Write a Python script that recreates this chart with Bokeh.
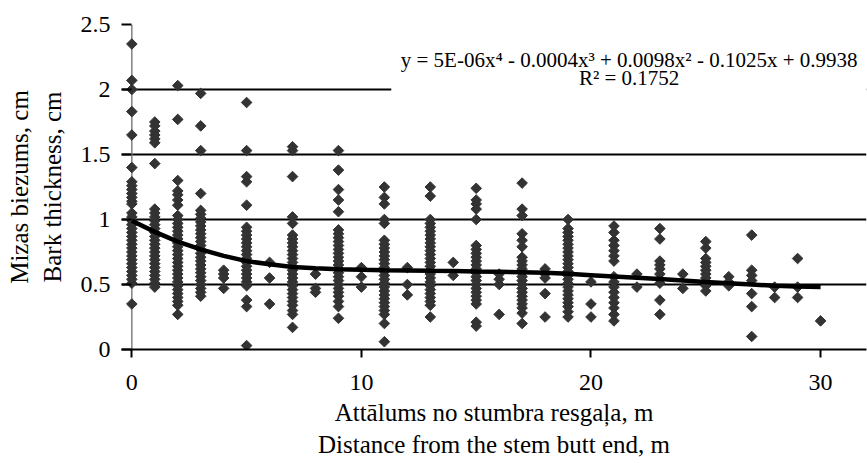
from bokeh.plotting import figure
from bokeh.models import Range1d, FixedTicker, Span, BoxAnnotation, Label
from bokeh.embed import file_html
from bokeh.resources import INLINE

# ---- data ----
distances = list(range(31))
d00 = [2.35, 2.07, 2.0, 1.83, 1.65, 1.40, 1.29, 1.26, 1.23, 1.20, 1.17, 1.14, 1.12, 1.05, 1.02,
       0.99, 0.96, 0.93, 0.90, 0.87, 0.84, 0.81, 0.78, 0.75, 0.72, 0.69, 0.66, 0.63, 0.60, 0.57,
       0.54, 0.51, 0.35]
d01 = [1.75, 1.72, 1.68, 1.65, 1.62, 1.59, 1.43, 1.08, 1.05, 1.02, 0.99, 0.96, 0.93, 0.90, 0.87,
       0.84, 0.81, 0.78, 0.75, 0.72, 0.69, 0.66, 0.63, 0.60, 0.57, 0.54, 0.51, 0.48]
d02 = [2.03, 1.77, 1.30, 1.22, 1.19, 1.15, 1.11, 1.03, 1.00, 0.97, 0.94, 0.91, 0.88, 0.85, 0.82,
       0.79, 0.76, 0.73, 0.70, 0.67, 0.64, 0.61, 0.58, 0.55, 0.52, 0.49, 0.46, 0.43, 0.40, 0.37,
       0.34, 0.27]
d03 = [1.97, 1.72, 1.53, 1.20, 1.07, 1.04, 1.01, 0.98, 0.95, 0.92, 0.89, 0.86, 0.83, 0.80, 0.77,
       0.74, 0.71, 0.68, 0.65, 0.62, 0.59, 0.56, 0.53, 0.50, 0.47, 0.44, 0.41]
d04 = [0.61, 0.58, 0.55, 0.47]
d05 = [1.90, 1.53, 1.33, 1.29, 1.11, 0.94, 0.91, 0.88, 0.85, 0.82, 0.79, 0.76, 0.73, 0.70, 0.67,
       0.64, 0.61, 0.58, 0.55, 0.52, 0.49, 0.38, 0.33, 0.03]
d06 = [0.67, 0.55, 0.35]
d07 = [1.56, 1.53, 1.33, 1.02, 0.97, 0.88, 0.85, 0.82, 0.79, 0.76, 0.73, 0.70, 0.67, 0.64, 0.61,
       0.58, 0.55, 0.52, 0.49, 0.46, 0.43, 0.40, 0.37, 0.34, 0.30, 0.27, 0.17]
d08 = [0.58, 0.47, 0.44]
d09 = [1.53, 1.38, 1.23, 1.15, 1.06, 0.92, 0.89, 0.86, 0.83, 0.80, 0.77, 0.74, 0.71, 0.68, 0.65,
       0.62, 0.59, 0.56, 0.53, 0.50, 0.47, 0.44, 0.41, 0.37, 0.33, 0.24]
d10 = [0.63, 0.56, 0.48]
d11 = [1.25, 1.17, 1.12, 1.00, 0.97, 0.84, 0.81, 0.78, 0.75, 0.72, 0.69, 0.66, 0.63, 0.60, 0.57,
       0.54, 0.51, 0.48, 0.45, 0.42, 0.39, 0.36, 0.33, 0.30, 0.27, 0.20, 0.06]
d12 = [0.63, 0.50, 0.42]
d13 = [1.25, 1.18, 1.00, 0.97, 0.94, 0.91, 0.88, 0.85, 0.82, 0.79, 0.76, 0.73, 0.70, 0.67, 0.64,
       0.61, 0.58, 0.55, 0.52, 0.49, 0.46, 0.43, 0.40, 0.37, 0.34, 0.25]
d14 = [0.67, 0.57]
d15 = [1.24, 1.15, 1.12, 1.08, 1.00, 0.80, 0.77, 0.74, 0.71, 0.68, 0.65, 0.62, 0.59, 0.56, 0.53,
       0.50, 0.47, 0.44, 0.41, 0.38, 0.35, 0.21, 0.18]
d16 = [0.58, 0.54, 0.50, 0.27]
d17 = [1.28, 1.08, 1.03, 0.89, 0.84, 0.79, 0.71, 0.68, 0.65, 0.62, 0.59, 0.56, 0.53, 0.50, 0.47,
       0.44, 0.41, 0.38, 0.35, 0.32, 0.28, 0.20]
d18 = [0.62, 0.58, 0.55, 0.43, 0.25]
d19 = [1.00, 0.93, 0.90, 0.87, 0.84, 0.81, 0.78, 0.75, 0.72, 0.69, 0.66, 0.63, 0.60, 0.57, 0.54,
       0.51, 0.48, 0.45, 0.42, 0.39, 0.36, 0.33, 0.29, 0.25]
d20 = [0.52, 0.35, 0.25]
d21 = [0.95, 0.90, 0.84, 0.80, 0.76, 0.72, 0.68, 0.56, 0.52, 0.48, 0.44, 0.40, 0.36, 0.32, 0.27, 0.22]
d22 = [0.58, 0.48]
d23 = [0.93, 0.85, 0.68, 0.65, 0.62, 0.58, 0.54, 0.51, 0.38, 0.27]
d24 = [0.58, 0.47]
d25 = [0.83, 0.78, 0.70, 0.67, 0.64, 0.61, 0.58, 0.55, 0.52, 0.49, 0.45]
d26 = [0.56, 0.52, 0.49]
d27 = [0.88, 0.61, 0.57, 0.53, 0.43, 0.33, 0.10]
d28 = [0.48, 0.40]
d29 = [0.70, 0.48, 0.40]
d30 = [0.22]
columns = [d00, d01, d02, d03, d04, d05, d06, d07, d08, d09, d10, d11, d12, d13, d14, d15,
           d16, d17, d18, d19, d20, d21, d22, d23, d24, d25, d26, d27, d28, d29, d30]

# polynomial trend line
trend_x = [0, 1, 2, 3, 4, 5, 6, 7, 8, 9, 10, 11, 12, 13, 14, 15, 16, 17, 18, 19, 20,
           21, 22, 23, 24, 25, 26, 27, 28, 29, 30]
trend_y = [0.99, 0.905, 0.83, 0.77, 0.72, 0.68, 0.655, 0.635, 0.625, 0.618, 0.613, 0.61, 0.608,
           0.605, 0.603, 0.60, 0.598, 0.595, 0.59, 0.582, 0.572, 0.562, 0.552, 0.542, 0.531,
           0.52, 0.51, 0.50, 0.49, 0.485, 0.48]

x_ticks = [0, 10, 20, 30]
y_ticks = [0, 0.5, 1, 1.5, 2, 2.5]
y_tick_labels = ["0", "0.5", "1", "1.5", "2", "2.5"]
equation_text = "y = 5E-06x\u2074 - 0.0004x\u00b3 + 0.0098x\u00b2 - 0.1025x + 0.9938"
r2_text = "R\u00b2 = 0.1752"
x_title = "Attālums no stumbra resgaļa, m\nDistance from the stem butt end, m"
y_title = "Mizas biezums, cm\nBark thickness, cm"

xs, ys = [], []
for d, col in zip(distances, columns):
    for v in col:
        xs.append(d)
        ys.append(v)

FONT = "Liberation Serif"

p = figure(width=867, height=463, output_backend="svg", toolbar_location=None,
           x_range=Range1d(-0.45, 32), y_range=Range1d(0, 2.5),
           min_border_left=121, min_border_right=1, min_border_top=24, min_border_bottom=114)
p.outline_line_color = None
p.background_fill_color = "white"
p.border_fill_color = "white"

# grid
p.xgrid.visible = False
p.ygrid.ticker = FixedTicker(ticks=[0.5, 1, 1.5, 2])
p.ygrid.grid_line_color = "black"
p.ygrid.grid_line_width = 2

# y axis line at x = 0 (gray)
p.add_layout(Span(location=0, dimension="height", line_color="#808080", line_width=1.5,
                  level="underlay"))

# axes
p.xaxis.ticker = FixedTicker(ticks=x_ticks)
p.xaxis.axis_line_color = "black"
p.xaxis.axis_line_width = 2
p.xaxis.major_tick_line_color = "black"
p.xaxis.major_tick_line_width = 2
p.xaxis.major_tick_out = 8
p.xaxis.major_tick_in = 0
p.xaxis.minor_tick_line_color = None
p.xaxis.major_label_standoff = 17
p.xaxis.major_label_text_font = FONT
p.xaxis.major_label_text_font_size = "24px"
p.xaxis.major_label_text_color = "black"
p.xaxis.axis_label = x_title
p.xaxis.axis_label_text_font = FONT
p.xaxis.axis_label_text_font_size = "25px"
p.xaxis.axis_label_text_font_style = "normal"
p.xaxis.axis_label_text_color = "black"
p.xaxis.axis_label_standoff = 6

p.yaxis.ticker = FixedTicker(ticks=y_ticks)
p.yaxis.major_label_overrides = {t: l for t, l in zip(y_ticks, y_tick_labels)}
p.yaxis.axis_line_color = None
p.yaxis.major_tick_line_color = "black"
p.yaxis.major_tick_line_width = 2
p.yaxis.major_tick_in = 10
p.yaxis.major_tick_out = 0
p.yaxis.minor_tick_line_color = None
p.yaxis.major_label_standoff = 11
p.yaxis.major_label_text_font = FONT
p.yaxis.major_label_text_font_size = "24px"
p.yaxis.major_label_text_color = "black"
p.yaxis.axis_label = y_title
p.yaxis.axis_label_text_font = FONT
p.yaxis.axis_label_text_font_size = "25px"
p.yaxis.axis_label_text_font_style = "normal"
p.yaxis.axis_label_text_color = "black"
p.yaxis.axis_label_standoff = 12

# data
p.scatter(xs, ys, marker="square", size=7.5, angle=0.785398, fill_color="#333333",
          line_color="#333333", line_width=1)
p.line(trend_x, trend_y, line_color="black", line_width=4.5)

# equation box
p.add_layout(BoxAnnotation(left=11.3, right=32, bottom=1.93, top=2.3, fill_color="white",
                           fill_alpha=1.0, line_color=None))
p.add_layout(Label(x=21.66, y=2.225, text=equation_text, text_font=FONT, text_font_size="21px",
                   text_align="center", text_baseline="middle", text_color="black"))
p.add_layout(Label(x=21.66, y=2.085, text=r2_text, text_font=FONT, text_font_size="21px",
                   text_align="center", text_baseline="middle", text_color="black"))

open("out.html", "w").write(file_html(p, INLINE))
